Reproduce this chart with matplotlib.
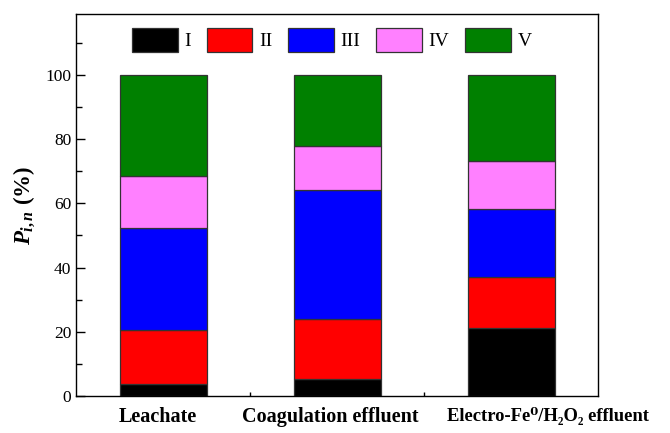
import matplotlib
matplotlib.use("Agg")
import matplotlib.pyplot as plt
from matplotlib.ticker import MultipleLocator, FixedLocator
import matplotlib.transforms as mtransforms
import numpy as np

categories = ["Leachate", "Coagulation effluent", "Electro-Fe\u2070/H\u2082O\u2082 effluent"]
series_names = ["I", "II", "III", "IV", "V"]
values = {
    "I":   [3.7, 5.2, 21.3],
    "II":  [16.9, 18.9, 15.7],
    "III": [31.7, 40.1, 21.2],
    "IV":  [16.2, 13.7, 15.1],
    "V":   [31.5, 22.1, 26.7],
}
colors = ["#000000", "#FF0000", "#0000FF", "#FF80FF", "#008000"]

plt.rcParams['font.family'] = ['Liberation Serif', 'DejaVu Serif']
plt.rcParams['mathtext.fontset'] = 'custom'
plt.rcParams['mathtext.rm'] = 'Liberation Serif:bold'
plt.rcParams['mathtext.it'] = 'Liberation Serif:bold:italic'
plt.rcParams['mathtext.bf'] = 'Liberation Serif:bold'

fig = plt.figure(figsize=(6.7, 4.33), dpi=100)
ax = fig.add_axes([76/670, 1-396/433, (598-76)/670, (396-14)/433])

x = np.arange(1, len(categories) + 1)
bottom = np.zeros(len(categories))
handles = []
for name, c in zip(series_names, colors):
    v = np.array(values[name])
    h = ax.bar(x, v, width=0.5, bottom=bottom, color=c, edgecolor="#333333", linewidth=0.9, label=name)
    handles.append(h)
    bottom += v

ax.set_xlim(0.5, 3.5)
ax.set_ylim(0, 119)
ax.yaxis.set_major_locator(MultipleLocator(20))
ax.yaxis.set_minor_locator(MultipleLocator(10))
ax.tick_params(axis='y', which='major', direction='in', length=6.5, width=1, labelsize=12.5)
ax.tick_params(axis='y', which='minor', direction='in', length=4.3, width=1)
ax.xaxis.set_major_locator(FixedLocator(x))
ax.set_xticklabels(categories, fontsize=14.5, fontweight='bold')
ax.xaxis.set_minor_locator(FixedLocator([1.5, 2.5]))
ax.tick_params(axis='x', which='major', length=0, pad=8)
ax.tick_params(axis='x', which='minor', direction='in', length=3, width=1)
label_shift_px = [-5, -7, 37]
label_sizes = [14.5, 14.5, 13.4]
for lbl, dx, fs in zip(ax.get_xticklabels(), label_shift_px, label_sizes):
    lbl.set_fontsize(fs)
    lbl.set_transform(lbl.get_transform() + mtransforms.ScaledTranslation(dx / 100, 0, fig.dpi_scale_trans))
for s in ax.spines.values():
    s.set_linewidth(1.0)

ax.set_ylabel(r"$P_{i,n}$ (%)", fontsize=16.5, fontweight='bold', labelpad=6)

leg = ax.legend(handles=handles, labels=series_names, loc='center', bbox_to_anchor=(0.49, 0.932),
                ncol=5, frameon=False, fontsize=14, handlelength=2.35, handleheight=1.45,
                handletextpad=0.35, columnspacing=0.8)

fig.savefig("out.png", dpi=100)
